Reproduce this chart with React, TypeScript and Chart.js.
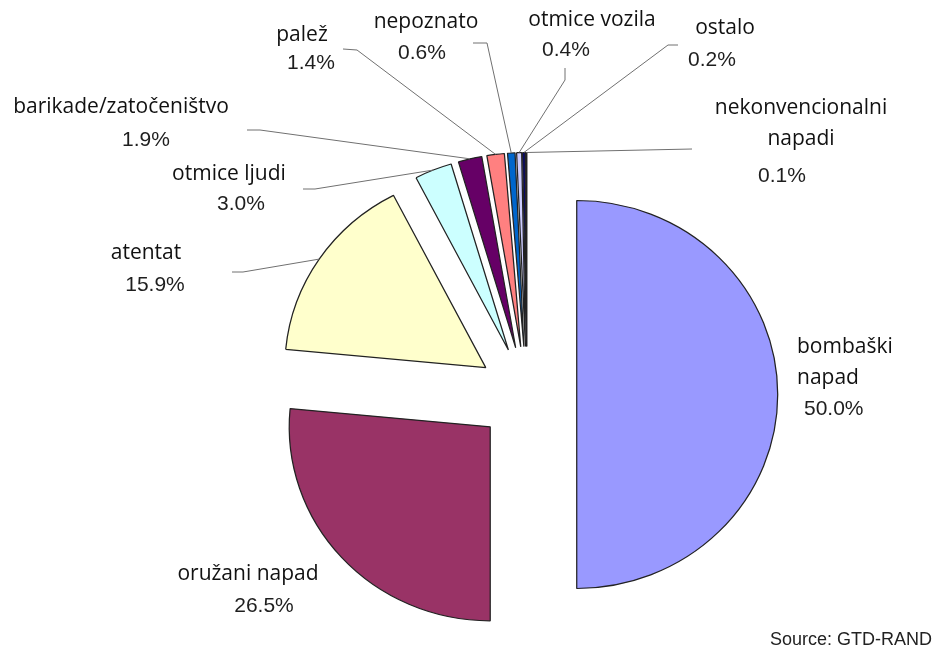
import React, { useEffect, useRef } from 'react';
import { Chart, registerables } from 'chart.js';

Chart.register(...registerables);

// ---- data ----
const CATEGORIES = [
  'bombaški napad',
  'oružani napad',
  'atentat',
  'otmice ljudi',
  'barikade/zatočeništvo',
  'palež',
  'nepoznato',
  'otmice vozila',
  'ostalo',
  'nekonvencionalni napadi',
];
const SHARES = [50.0, 26.5, 15.9, 3.0, 1.9, 1.4, 0.6, 0.4, 0.2, 0.1];
const PCT_LABELS = ['50.0%', '26.5%', '15.9%', '3.0%', '1.9%', '1.4%', '0.6%', '0.4%', '0.2%', '0.1%'];
const NAME_LINES = [
  ['bombaški', 'napad'],
  ['oružani napad'],
  ['atentat'],
  ['otmice ljudi'],
  ['barikade/zatočeništvo'],
  ['palež'],
  ['nepoznato'],
  ['otmice vozila'],
  ['ostalo'],
  ['nekonvencionalni', 'napadi'],
];
const SOURCE_TEXT = 'Source: GTD-RAND';

// ---- styles / layout (kept apart from the data) ----
const COLORS = ['#9999FF', '#993366', '#FFFFCC', '#CCFFFF', '#660066', '#FF8080', '#0066CC', '#CCCCFF', '#000080', '#FF00FF'];
const W = 933;
const H = 651;
const RADIUS = 194;
const EXPLODE = 48;
const STRETCH_X = 1.036;
const NAME_FONT = '21px "Open Sans"';
const PCT_FONT = '21px "Liberation Sans"';
const LINE_GAP = 31;
const NAME_ANCHORS: [number, number][] = [
  [797, 347], [248, 574], [146, 253], [229, 174], [121, 107],
  [302, 35], [426, 22], [592, 20], [725, 28], [801, 108],
];
const NAME_ALIGN: CanvasTextAlign[] = ['left', 'center', 'center', 'center', 'center', 'center', 'center', 'center', 'center', 'center'];
const PCT_ANCHORS: [number, number][] = [
  [804, 409], [264, 606], [155, 285], [241, 204], [146, 140],
  [311, 63], [422, 53], [566, 50], [712, 60], [782, 176],
];
const PCT_ALIGN: CanvasTextAlign[] = ['left', 'center', 'center', 'center', 'center', 'center', 'center', 'center', 'center', 'center'];
const LEADER_START: ([number, number] | null)[] = [
  null, null, [232, 272], [303, 189], [247, 130], [343, 49], [473, 43], [565, 68], [678, 45], [692, 149],
];
const LEADER_ELBOW: ([number, number] | null)[] = [
  null, null, [243, 272], [315, 189], [260, 130], [357, 50], [487, 43], [565, 80], [668, 45], null,
];

const explodePlugin = {
  id: 'explodeArcs',
  beforeDatasetDraw(chart: any, args: any) {
    const meta = chart.getDatasetMeta(args.index);
    const ctx: CanvasRenderingContext2D = chart.ctx;
    meta.data.forEach((arc: any) => {
      const mid = (arc.startAngle + arc.endAngle) / 2;
      ctx.save();
      ctx.translate(arc.x, arc.y);
      ctx.scale(STRETCH_X, 1);
      ctx.translate(-arc.x, -arc.y);
      ctx.translate(Math.cos(mid) * EXPLODE, Math.sin(mid) * EXPLODE);
      arc.draw(ctx);
      ctx.restore();
    });
    return false;
  },
};

const labelPlugin = {
  id: 'sliceLabels',
  afterDraw(chart: any) {
    const ctx: CanvasRenderingContext2D = chart.ctx;
    const meta = chart.getDatasetMeta(0);
    ctx.save();
    // leader lines
    ctx.strokeStyle = '#707070';
    ctx.lineWidth = 1;
    meta.data.forEach((arc: any, i: number) => {
      const start = LEADER_START[i];
      if (!start) return;
      const mid = (arc.startAngle + arc.endAngle) / 2;
      const r = EXPLODE + arc.outerRadius;
      const ex = arc.x + STRETCH_X * Math.cos(mid) * r;
      const ey = arc.y + Math.sin(mid) * r;
      ctx.beginPath();
      ctx.moveTo(start[0], start[1]);
      const elbow = LEADER_ELBOW[i];
      if (elbow) ctx.lineTo(elbow[0], elbow[1]);
      ctx.lineTo(ex, ey);
      ctx.stroke();
    });
    // texts
    ctx.textBaseline = 'middle';
    CATEGORIES.forEach((_, i) => {
      ctx.font = NAME_FONT;
      ctx.fillStyle = '#111111';
      ctx.textAlign = NAME_ALIGN[i];
      NAME_LINES[i].forEach((line, j) => {
        ctx.fillText(line, NAME_ANCHORS[i][0], NAME_ANCHORS[i][1] + j * LINE_GAP);
      });
      ctx.font = PCT_FONT;
      ctx.fillStyle = '#1e1e1e';
      ctx.textAlign = PCT_ALIGN[i];
      ctx.fillText(PCT_LABELS[i], PCT_ANCHORS[i][0], PCT_ANCHORS[i][1]);
    });
    ctx.font = '18px "Liberation Sans"';
    ctx.fillStyle = '#222222';
    ctx.textAlign = 'right';
    ctx.fillText(SOURCE_TEXT, 932, 640);
    ctx.restore();
  },
};

export default function App() {
  const ref = useRef<HTMLCanvasElement | null>(null);
  useEffect(() => {
    if (!ref.current) return;
    const chart = new Chart(ref.current, {
      type: 'pie',
      data: {
        labels: CATEGORIES,
        datasets: [
          {
            data: SHARES,
            backgroundColor: COLORS,
            borderColor: '#222222',
            borderWidth: 1.2,
            radius: RADIUS,
            hoverOffset: 0,
          } as any,
        ],
      },
      options: {
        responsive: false,
        animation: false,
        events: [],
        layout: { padding: { left: 121, right: 0, top: 138, bottom: 0 } },
        plugins: {
          legend: { display: false },
          tooltip: { enabled: false },
        },
      },
      plugins: [explodePlugin, labelPlugin],
    });
    return () => chart.destroy();
  }, []);
  return (
    <div style={{ position: 'fixed', left: 0, top: 0, width: W, height: H, background: '#fff' }}>
      <canvas ref={ref} width={W} height={H} style={{ width: W, height: H, display: 'block' }} />
    </div>
  );
}
